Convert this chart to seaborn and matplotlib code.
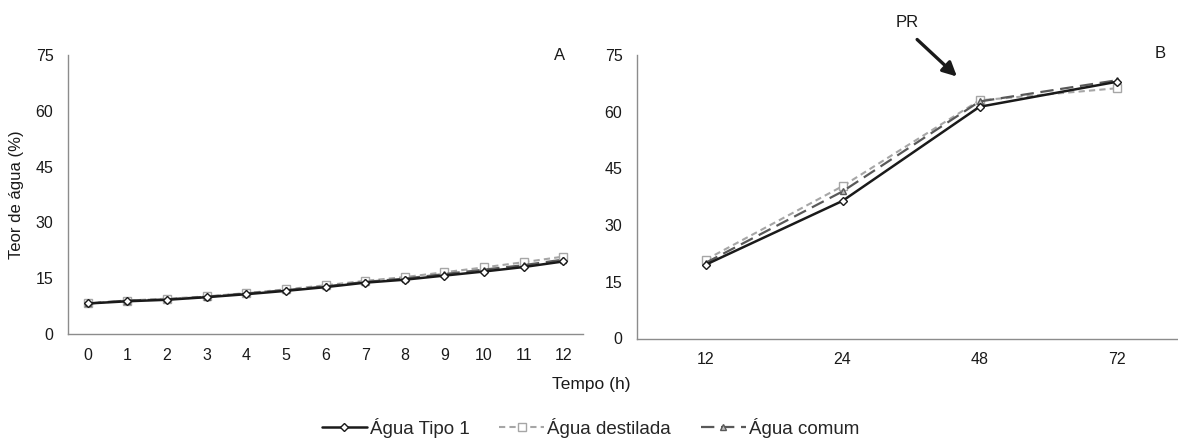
import numpy as np
import pandas as pd
import matplotlib
matplotlib.use("Agg")
import matplotlib.pyplot as plt
import seaborn as sns
from matplotlib.lines import Line2D

sns.set_theme(style="white")
plt.rcParams["font.family"] = ["Liberation Sans", "DejaVu Sans"]

# Panel A: hourly imbibition, 0-12 h
hours_a = [0, 1, 2, 3, 4, 5, 6, 7, 8, 9, 10, 11, 12]
tipo1_a = [8.2, 8.8, 9.2, 9.9, 10.7, 11.6, 12.6, 13.8, 14.6, 15.7, 16.8, 18.0, 19.5]
destilada_a = [8.2, 9.0, 9.5, 10.1, 11.0, 12.0, 13.1, 14.3, 15.3, 16.6, 17.9, 19.3, 20.8]
comum_a = [8.2, 9.0, 9.3, 10.0, 10.9, 11.8, 12.8, 14.0, 14.9, 16.1, 17.3, 18.5, 20.0]

# Panel B: 12-72 h
hours_b = ["12", "24", "48", "72"]
tipo1_b = [19.5, 36.4, 61.3, 67.9]
destilada_b = [20.8, 40.3, 63.0, 66.2]
comum_b = [20.0, 38.9, 62.7, 68.3]

y_ticks = [0, 15, 30, 45, 60, 75]
series_names = ["Água Tipo 1", "Água destilada", "Água comum"]

styles = {
    "Água Tipo 1": dict(color="#1a1a1a", marker="D", ms=4.5, lw=1.8, dashes=None, mfc="white"),
    "Água destilada": dict(color="#a6a6a6", marker="s", ms=6.0, lw=1.5, dashes=(3, 2), mfc="white"),
    "Água comum": dict(color="#595959", marker="^", ms=5.0, lw=1.6, dashes=(6, 3), mfc="#bfbfbf"),
}

W, H = 1178, 441
fig = plt.figure(figsize=(W / 100, H / 100), dpi=100)
# axes boxes in pixels: left, bottom(from top), right, top(from top)
ax_a = fig.add_axes([68 / W, 1 - 334 / H, (583 - 68) / W, (334 - 55) / H])
ax_b = fig.add_axes([637 / W, 1 - 338.5 / H, (1185 - 637) / W, (338.5 - 55) / H])

TXT = "#1a1a1a"
SPINE = "#8c8c8c"


def draw(ax, xs, data):
    for name, vals in zip(series_names, data):
        st = styles[name]
        df = pd.DataFrame({"x": xs, "y": vals})
        sns.lineplot(data=df, x="x", y="y", ax=ax, color=st["color"], lw=st["lw"],
                     marker=st["marker"], markersize=st["ms"], markerfacecolor=st["mfc"],
                     markeredgecolor=st["color"], markeredgewidth=1.0, legend=False,
                     zorder=3 if name == "Água Tipo 1" else 2)
        if st["dashes"] is not None:
            ax.lines[-1].set_dashes(st["dashes"])


def style_axes(ax, n):
    ax.set_ylim(0, 75)
    ax.set_yticks(y_ticks)
    ax.set_xlim(-0.5, n - 0.5)
    ax.set_xticks(range(n))
    ax.set_xticks(np.arange(-0.5, n, 1.0), minor=True)
    for s in ["top", "right"]:
        ax.spines[s].set_visible(False)
    for s in ["left", "bottom"]:
        ax.spines[s].set_color(SPINE)
        ax.spines[s].set_linewidth(1.0)
    ax.tick_params(axis="x", which="major", length=0, pad=10, labelsize=11.5, colors=TXT)
    ax.tick_params(axis="x", which="minor", length=4, width=1.0, color=SPINE, direction="out")
    ax.tick_params(axis="y", which="major", length=3.5, width=1.0, color=SPINE, direction="out",
                   labelsize=11.5, labelcolor=TXT, pad=7)
    ax.set_xlabel("")
    ax.set_ylabel("")
    ax.patch.set_alpha(0)


# Panel A
pos_a = list(range(len(hours_a)))
draw(ax_a, pos_a, [tipo1_a, destilada_a, comum_a])
style_axes(ax_a, len(hours_a))
ax_a.set_xticklabels([str(h) for h in hours_a])
ax_a.set_ylabel("Teor de água (%)", fontsize=12, color=TXT, labelpad=8)
ax_a.text(11.9, 75, "A", fontsize=12, ha="center", va="center", color=TXT)

# Panel B
pos_b = list(range(len(hours_b)))
draw(ax_b, pos_b, [tipo1_b, destilada_b, comum_b])
style_axes(ax_b, len(hours_b))
ax_b.set_xticklabels(hours_b)
ax_b.text(3.32, 75.5, "B", fontsize=12, ha="center", va="center", color=TXT)
ax_b.annotate("", xy=(1.85, 68.8), xytext=(1.53, 79.6),
              arrowprops=dict(arrowstyle="-|>,head_length=0.7,head_width=0.35", color=TXT, lw=2.4),
              annotation_clip=False)
ax_b.text(1.47, 83.6, "PR", fontsize=12, ha="center", va="center", color=TXT, clip_on=False)

fig.text(552 / W, 1 - 385 / H, "Tempo (h)", fontsize=12.5, ha="left", va="center", color=TXT)

handles = []
for name in series_names:
    st = styles[name]
    h = Line2D([0], [0], color=st["color"], lw=st["lw"], marker=st["marker"], markersize=st["ms"] - 0.5,
               markerfacecolor=st["mfc"], markeredgecolor=st["color"])
    if st["dashes"] is not None:
        h.set_dashes(st["dashes"])
    handles.append(h)
fig.legend(handles, series_names, loc="center left", bbox_to_anchor=(318 / W, 1 - 428 / H), ncol=3,
           frameon=False, fontsize=13.5, handlelength=2.4, handletextpad=0.15, columnspacing=1.6,
           borderpad=0.2, borderaxespad=0)

fig.savefig("out.png", dpi=100)
